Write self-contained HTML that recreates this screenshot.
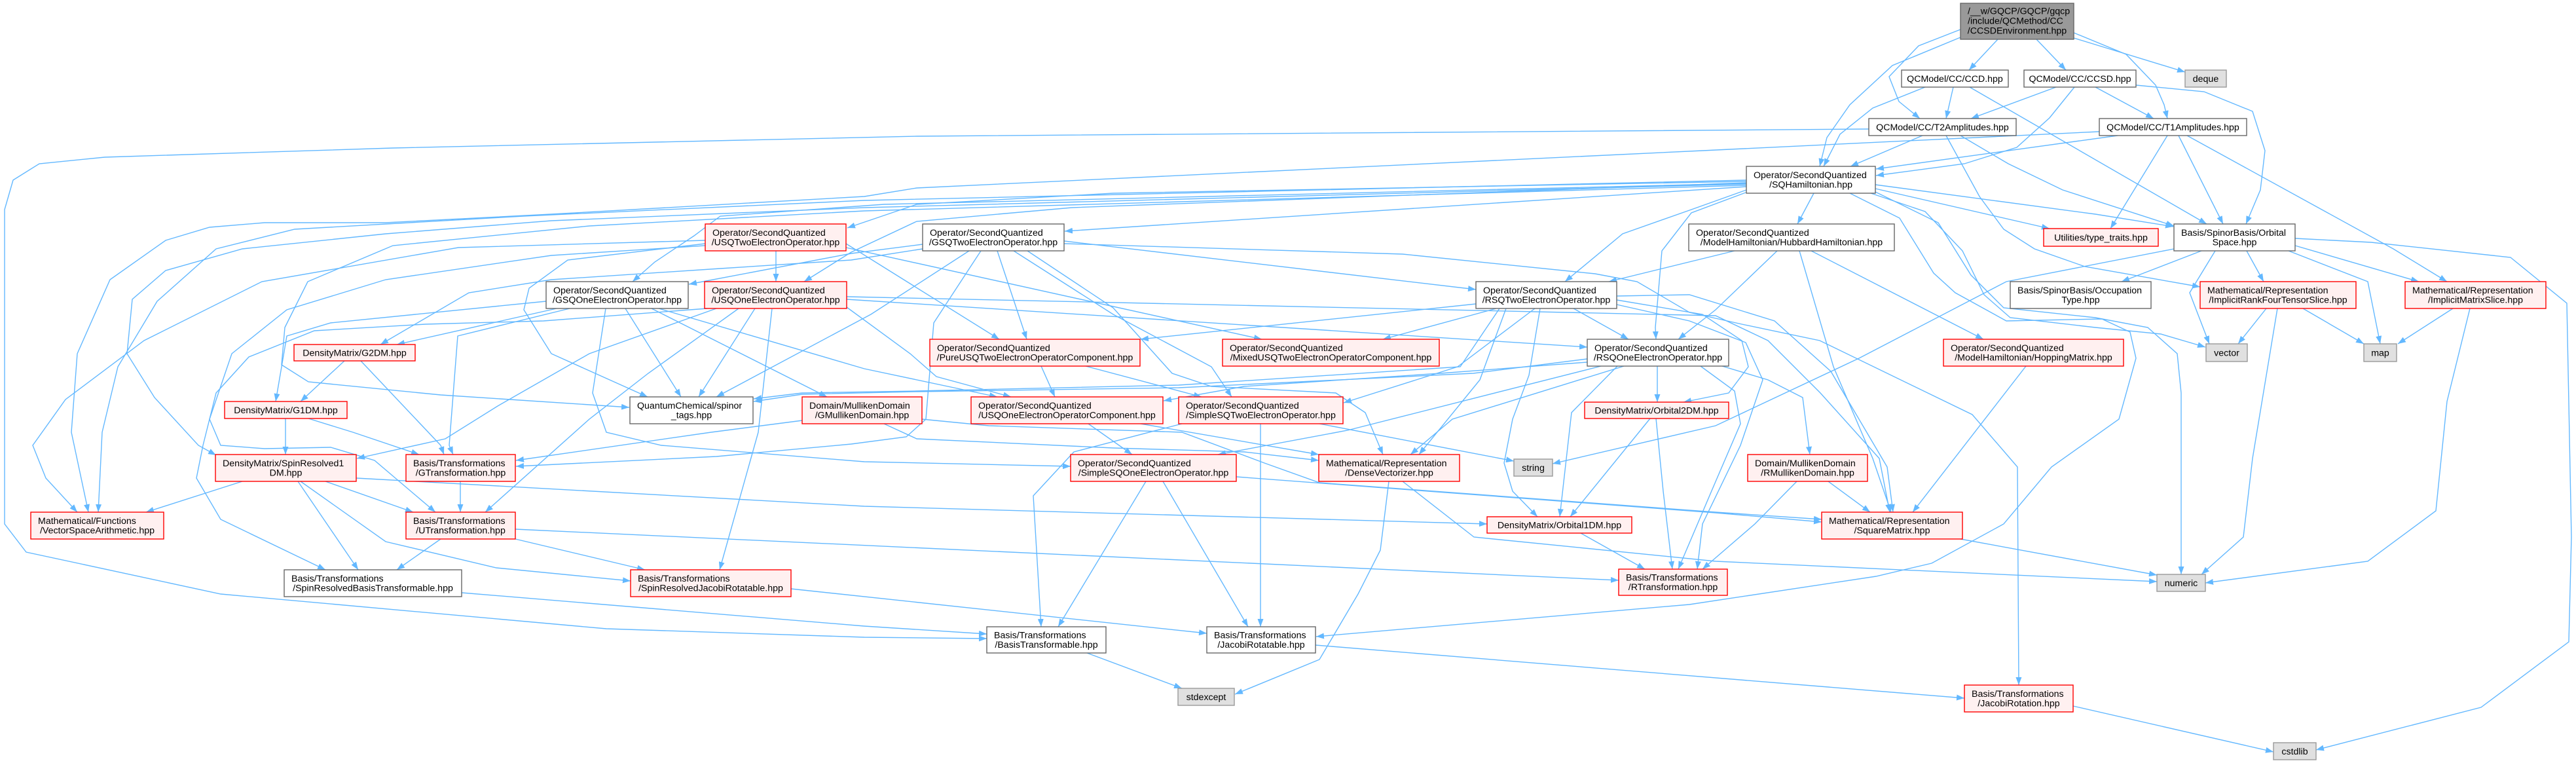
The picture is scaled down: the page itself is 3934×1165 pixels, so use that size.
<!DOCTYPE html>
<html><head><meta charset="utf-8"><style>
html,body{margin:0;padding:0;background:#fff;}
svg{display:block;}
.e polyline{fill:none;stroke:#63b8ff;stroke-width:1.4;marker-end:url(#a);}
.n{fill:#fff;stroke:#666;stroke-width:1.4;}
.r{fill:#fff0f0;stroke:#ff0000;stroke-width:1.4;}
.g{fill:#e0e0e0;stroke:#999;stroke-width:1.4;}
.k{fill:#999;stroke:#666;stroke-width:1.4;}
text{font-family:"Liberation Sans",Arial,sans-serif;font-size:14.2px;fill:#000;}
.m{text-anchor:middle;}
</style></head><body>
<svg width="3934" height="1165" viewBox="0 0 3934 1165" xmlns="http://www.w3.org/2000/svg">
<defs><marker id="a" viewBox="0 0 12 9" refX="12" refY="4.5" markerWidth="12" markerHeight="9" markerUnits="userSpaceOnUse" orient="auto"><path d="M0,0 L12,4.5 L0,9 z" fill="#63b8ff"/></marker></defs>
<g class="e">
<polyline points="3051,60 3007,107"/>
<polyline points="3110,60 3155,107"/>
<polyline points="3167,58 3337,110"/>
<polyline points="3167,50 3247,83 3292,130 3305,160 3310,181"/>
<polyline points="2994,45 2930,70 2885,117 2900,155 2932,181"/>
<polyline points="2994,57 2890,100 2825,160 2790,210 2779,254"/>
<polyline points="2983,133 2972,181"/>
<polyline points="2940,133 2860,165 2810,205 2785,254"/>
<polyline points="3008,133 3370,342"/>
<polyline points="3140,133 3010,181"/>
<polyline points="3200,133 3289,181"/>
<polyline points="3168,133 3130,180 3080,225 3000,250 2865,268"/>
<polyline points="3262,130 3366,140 3440,170 3459,230 3452,290 3430,342"/>
<polyline points="2936,207 2826,254"/>
<polyline points="2854,197 1400,208 600,226 160,240 60,250 20,275 7,320 7,800 40,843 337,907 926,960 1320,973 1507,975"/>
<polyline points="2994,207 3067,250 3150,290 3320,345"/>
<polyline points="2972,207 3023,300 3060,350 3107,380 3184,407 3360,438"/>
<polyline points="3234,207 2865,258"/>
<polyline points="3310,207 3223,349"/>
<polyline points="3327,207 3395,342"/>
<polyline points="3340,207 3655,380 3737,430"/>
<polyline points="3206,201 2600,230 1400,287 1320,300 842,327 589,340 404,340 320,347 253,367 168,427 118,540 109,660 135,782"/>
<polyline points="2667,277 1700,295 1400,312 1294,348"/>
<polyline points="2667,285 1626,353"/>
<polyline points="2667,280 1350,312 1100,330 1060,360 1000,400 966,430"/>
<polyline points="2667,279 1637,317 1400,338 1300,385 1228,430"/>
<polyline points="2770,295 2745,342"/>
<polyline points="2864,288 3130,349"/>
<polyline points="2864,282 3200,327 3319,346"/>
<polyline points="2667,290 2583,320 2478,357 2390,430"/>
<polyline points="2666,294 2583,325 2538,383 2528,500 2529,518"/>
<polyline points="2667,275 1320,306 800,330 450,350 330,380 240,460 180,560 156,660 150,782"/>
<polyline points="2667,281 1320,317 842,337 589,357 370,380 253,413 202,457 194,540 236,607 303,680 330,695"/>
<polyline points="2667,283 1320,322 900,345 600,375 470,430 435,500 430,557 471,583 673,603 961,622"/>
<polyline points="2857,295 2940,323 2997,383 3030,450 3070,485 3200,500 3300,510 3368,530"/>
<polyline points="2862,292 2960,340 3010,420 3060,470 3200,485 3280,500 3325,540 3331,600 3331,877"/>
<polyline points="2825,295 2901,333 2953,417 2986,447 3064,490 3210,487 3253,507 3262,547 3236,640 3133,713 3060,800 2950,860 2865,880 2580,923 2010,972"/>
<polyline points="1185,383 1185,430"/>
<polyline points="1292,372 1526,518"/>
<polyline points="1292,378 1927,518"/>
<polyline points="1077,372 867,397 808,440 800,473 842,540 989,606"/>
<polyline points="1077,367 700,378 400,430 220,520 100,610 50,680 70,730 118,782"/>
<polyline points="1077,375 842,390 589,427 438,473 354,540 320,640 337,680 404,685 505,683 572,703 665,782"/>
<polyline points="1409,373 1300,387 1052,434"/>
<polyline points="1409,380 1300,397 1100,410 842,427 716,447 581,526"/>
<polyline points="1625,368 2254,442"/>
<polyline points="1523,383 1568,518"/>
<polyline points="1548,383 1700,480 1850,560 1881,606"/>
<polyline points="1480,383 1330,480 1094,606"/>
<polyline points="1498,383 1426,493 1414,640 1384,667 1300,678 1094,697 788,712"/>
<polyline points="1625,372 2142,388 2436,418 2500,430 2580,477 2660,495 2779,520 3012,633 3081,713 3083,1046"/>
<polyline points="1569,383 1700,470 1790,570 1850,590 2040,600 2085,630 2112,694"/>
<polyline points="850,471 606,526"/>
<polyline points="834,460 505,493 438,513 421,613"/>
<polyline points="955,471 1040,606"/>
<polyline points="995,471 1263,606"/>
<polyline points="870,471 699,513 686,680 692,694"/>
<polyline points="925,471 905,600 926,660 1010,680 1320,705 1635,712"/>
<polyline points="1006,471 1320,563 1523,606"/>
<polyline points="1153,471 1067,606"/>
<polyline points="1094,471 900,540 760,620 680,670 545,700"/>
<polyline points="1128,471 990,570 900,640 741,782"/>
<polyline points="1179,471 1158,660 1099,870"/>
<polyline points="1293,457 2424,530"/>
<polyline points="1293,469 1390,540 1430,575 1544,606"/>
<polyline points="1080,471 830,490 650,495 480,505 380,545 330,600 310,680 300,730 337,793 497,870"/>
<polyline points="1293,453 2620,482 2700,520 2780,600 2870,700 2886,782"/>
<polyline points="2254,464 1742,518"/>
<polyline points="2285,471 2112,518"/>
<polyline points="2403,471 2487,518"/>
<polyline points="2344,471 2226,560 2052,615"/>
<polyline points="2469,458 2600,480 2660,520 2670,560 2640,600 2571,614"/>
<polyline points="2290,471 2230,560 1800,588 1400,597 1225,600 1151,609"/>
<polyline points="2300,471 2260,580 2167,694"/>
<polyline points="2352,471 2335,573 2310,640 2297,707 2310,750 2348,789"/>
<polyline points="2469,465 2580,490 2666,523 2692,580 2658,680 2600,800 2592,869"/>
<polyline points="2469,452 2580,450 2710,490 2796,567 2882,713 2891,782"/>
<polyline points="2424,548 2250,570 1800,592 1400,598 1225,602 1151,613"/>
<polyline points="2424,553 2200,570 1900,590 1777,612"/>
<polyline points="2445,559 2058,657 1860,694"/>
<polyline points="2531,559 2531,614"/>
<polyline points="2630,559 2700,580 2753,607 2764,694"/>
<polyline points="2480,559 2218,640 2154,694"/>
<polyline points="2470,559 2400,630 2382,789"/>
<polyline points="2597,559 2649,597 2658,647 2615,747 2563,869"/>
<polyline points="2649,383 2457,430"/>
<polyline points="2714,383 2620,473 2563,518"/>
<polyline points="2766,383 3029,518"/>
<polyline points="2748,383 2800,560 2860,700 2888,782"/>
<polyline points="526,551 459,613"/>
<polyline points="551,551 673,680 678,694"/>
<polyline points="436,639 436,694"/>
<polyline points="471,639 539,660 640,694"/>
<polyline points="370,735 223,782"/>
<polyline points="497,735 631,782"/>
<polyline points="455,735 547,870"/>
<polyline points="459,735 589,827 758,867 963,887"/>
<polyline points="544,730 1320,773 2271,800"/>
<polyline points="703,735 703,782"/>
<polyline points="673,823 606,870"/>
<polyline points="787,823 985,870"/>
<polyline points="787,808 2472,886"/>
<polyline points="705,905 1320,956 1507,968"/>
<polyline points="1208,899 1843,967"/>
<polyline points="1225,642 1086,660 788,703"/>
<polyline points="1408,640 1510,650 1805,660 1931,707 2015,737 2620,782 2782,793"/>
<polyline points="1350,647 1400,670 1700,684 1900,690 2014,703"/>
<polyline points="1590,559 1611,606"/>
<polyline points="1658,559 1835,606"/>
<polyline points="1662,647 1729,694"/>
<polyline points="1742,647 2014,694"/>
<polyline points="2015,647 2312,704"/>
<polyline points="1805,647 1640,690 1578,757 1590,957"/>
<polyline points="1925,647 1925,957"/>
<polyline points="1750,735 1616,957"/>
<polyline points="1776,735 1906,957"/>
<polyline points="1888,728 2620,783 2782,797"/>
<polyline points="2142,735 2251,820 2620,857 3294,888"/>
<polyline points="2121,735 2108,840 2074,907 2015,1007 1886,1060"/>
<polyline points="2792,735 2856,782"/>
<polyline points="2744,735 2680,800 2600,869"/>
<polyline points="2520,639 2398,789"/>
<polyline points="2529,639 2540,750 2554,869"/>
<polyline points="2414,814 2512,869"/>
<polyline points="2994,823 3294,878"/>
<polyline points="1660,997 1805,1051"/>
<polyline points="2009,985 3000,1066"/>
<polyline points="3166,1078 3472,1148"/>
<polyline points="3094,559 2921,782"/>
<polyline points="3362,383 3240,430"/>
<polyline points="3431,383 3457,430"/>
<polyline points="3505,375 3694,430"/>
<polyline points="3383,383 3344,447 3374,525"/>
<polyline points="3495,383 3616,430 3635,525"/>
<polyline points="3320,380 3064,430 2839,547 2620,650 2371,708"/>
<polyline points="3505,364 3621,370 3834,393 3920,463 3927,820 3923,980 3789,1080 3537,1145"/>
<polyline points="3461,471 3418,525"/>
<polyline points="3517,471 3610,525"/>
<polyline points="3478,471 3440,700 3426,820 3362,877"/>
<polyline points="3746,471 3662,525"/>
<polyline points="3772,471 3737,613 3720,780 3616,857 3368,890"/>
</g>
<g>
<rect class="k" x="2994" y="5" width="173" height="55"/>
<text x="3005" y="21.7">/__w/GQCP/GQCP/gqcp</text><text x="3005" y="36.7">/include/QCMethod/CC</text><text class="m" x="3080.5" y="51.7">/CCSDEnvironment.hpp</text>

<rect class="n" x="2904" y="107" width="163" height="26"/><text class="m" x="2985.5" y="125">QCModel/CC/CCD.hpp</text>
<rect class="n" x="3091" y="107" width="171" height="26"/><text class="m" x="3176.5" y="125">QCModel/CC/CCSD.hpp</text>
<rect class="g" x="3337" y="107" width="63" height="26"/><text class="m" x="3368.5" y="125">deque</text>
<rect class="n" x="2854" y="181" width="225" height="26"/><text class="m" x="2966.5" y="199">QCModel/CC/T2Amplitudes.hpp</text>
<rect class="n" x="3206" y="181" width="225" height="26"/><text class="m" x="3318.5" y="199">QCModel/CC/T1Amplitudes.hpp</text>

<rect class="n" x="2667" y="254" width="197" height="41"/><text x="2678" y="272">Operator/SecondQuantized</text><text class="m" x="2765.5" y="286.3">/SQHamiltonian.hpp</text>

<rect class="r" x="1077" y="342" width="215" height="41"/><text x="1088" y="360">Operator/SecondQuantized</text><text class="m" x="1184.5" y="374.3">/USQTwoElectronOperator.hpp</text>
<rect class="n" x="1409" y="342" width="216" height="41"/><text x="1420" y="360">Operator/SecondQuantized</text><text class="m" x="1517" y="374.3">/GSQTwoElectronOperator.hpp</text>
<rect class="n" x="2579" y="342" width="314" height="41"/><text x="2590" y="360">Operator/SecondQuantized</text><text class="m" x="2736" y="374.3">/ModelHamiltonian/HubbardHamiltonian.hpp</text>
<rect class="r" x="3121" y="349" width="175" height="27"/><text class="m" x="3208.5" y="367.5">Utilities/type_traits.hpp</text>
<rect class="n" x="3320" y="342" width="185" height="41"/><text x="3331" y="360">Basis/SpinorBasis/Orbital</text><text class="m" x="3412.5" y="374.3">Space.hpp</text>

<rect class="n" x="834" y="430" width="217" height="41"/><text x="845" y="448">Operator/SecondQuantized</text><text class="m" x="942.5" y="462.3">/GSQOneElectronOperator.hpp</text>
<rect class="r" x="1076" y="430" width="217" height="41"/><text x="1087" y="448">Operator/SecondQuantized</text><text class="m" x="1184.5" y="462.3">/USQOneElectronOperator.hpp</text>
<rect class="n" x="2254" y="430" width="215" height="41"/><text x="2265" y="448">Operator/SecondQuantized</text><text class="m" x="2361.5" y="462.3">/RSQTwoElectronOperator.hpp</text>
<rect class="n" x="3070" y="430" width="215" height="41"/><text x="3081" y="448">Basis/SpinorBasis/Occupation</text><text class="m" x="3177.5" y="462.3">Type.hpp</text>
<rect class="r" x="3360" y="430" width="238" height="41"/><text x="3371" y="448">Mathematical/Representation</text><text class="m" x="3479" y="462.3">/ImplicitRankFourTensorSlice.hpp</text>
<rect class="r" x="3673" y="430" width="215" height="41"/><text x="3684" y="448">Mathematical/Representation</text><text class="m" x="3780.5" y="462.3">/ImplicitMatrixSlice.hpp</text>

<rect class="r" x="449" y="526" width="185" height="25"/><text class="m" x="541.5" y="543.5">DensityMatrix/G2DM.hpp</text>
<rect class="r" x="1420" y="518" width="321" height="41"/><text x="1431" y="536">Operator/SecondQuantized</text><text class="m" x="1580.5" y="550.3">/PureUSQTwoElectronOperatorComponent.hpp</text>
<rect class="r" x="1867" y="518" width="331" height="41"/><text x="1878" y="536">Operator/SecondQuantized</text><text class="m" x="2032.5" y="550.3">/MixedUSQTwoElectronOperatorComponent.hpp</text>
<rect class="n" x="2424" y="518" width="216" height="41"/><text x="2435" y="536">Operator/SecondQuantized</text><text class="m" x="2532" y="550.3">/RSQOneElectronOperator.hpp</text>
<rect class="r" x="2968" y="518" width="275" height="41"/><text x="2979" y="536">Operator/SecondQuantized</text><text class="m" x="3105.5" y="550.3">/ModelHamiltonian/HoppingMatrix.hpp</text>
<rect class="g" x="3369" y="525" width="63" height="27"/><text class="m" x="3400.5" y="543.5">vector</text>
<rect class="g" x="3610" y="525" width="50" height="27"/><text class="m" x="3635" y="543.5">map</text>

<rect class="r" x="343" y="613" width="187" height="26"/><text class="m" x="436.5" y="631">DensityMatrix/G1DM.hpp</text>
<rect class="n" x="962" y="606" width="188" height="41"/><text x="973" y="624">QuantumChemical/spinor</text><text class="m" x="1056" y="638.3">_tags.hpp</text>
<rect class="r" x="1225" y="606" width="183" height="41"/><text x="1236" y="624">Domain/MullikenDomain</text><text class="m" x="1316.5" y="638.3">/GMullikenDomain.hpp</text>
<rect class="r" x="1483" y="606" width="293" height="41"/><text x="1494" y="624">Operator/SecondQuantized</text><text class="m" x="1629.5" y="638.3">/USQOneElectronOperatorComponent.hpp</text>
<rect class="r" x="1800" y="606" width="251" height="41"/><text x="1811" y="624">Operator/SecondQuantized</text><text class="m" x="1925.5" y="638.3">/SimpleSQTwoElectronOperator.hpp</text>
<rect class="r" x="2420" y="614" width="220" height="25"/><text class="m" x="2530" y="631.5">DensityMatrix/Orbital2DM.hpp</text>

<rect class="r" x="329" y="694" width="215" height="41"/><text x="340" y="712">DensityMatrix/SpinResolved1</text><text class="m" x="436.5" y="726.3">DM.hpp</text>
<rect class="r" x="620" y="694" width="167" height="41"/><text x="631" y="712">Basis/Transformations</text><text class="m" x="703.5" y="726.3">/GTransformation.hpp</text>
<rect class="r" x="1635" y="694" width="253" height="41"/><text x="1646" y="712">Operator/SecondQuantized</text><text class="m" x="1761.5" y="726.3">/SimpleSQOneElectronOperator.hpp</text>
<rect class="r" x="2014" y="694" width="215" height="41"/><text x="2025" y="712">Mathematical/Representation</text><text class="m" x="2121.5" y="726.3">/DenseVectorizer.hpp</text>
<rect class="g" x="2312" y="701" width="59" height="26"/><text class="m" x="2341.5" y="719">string</text>
<rect class="r" x="2669" y="694" width="183" height="41"/><text x="2680" y="712">Domain/MullikenDomain</text><text class="m" x="2760.5" y="726.3">/RMullikenDomain.hpp</text>

<rect class="r" x="47" y="782" width="203" height="41"/><text x="58" y="800">Mathematical/Functions</text><text class="m" x="148.5" y="814.3">/VectorSpaceArithmetic.hpp</text>
<rect class="r" x="620" y="782" width="167" height="41"/><text x="631" y="800">Basis/Transformations</text><text class="m" x="703.5" y="814.3">/UTransformation.hpp</text>
<rect class="r" x="2271" y="789" width="221" height="25"/><text class="m" x="2381.5" y="806.5">DensityMatrix/Orbital1DM.hpp</text>
<rect class="r" x="2782" y="782" width="215" height="41"/><text x="2793" y="800">Mathematical/Representation</text><text class="m" x="2889.5" y="814.3">/SquareMatrix.hpp</text>

<rect class="n" x="434" y="870" width="271" height="41"/><text x="445" y="888">Basis/Transformations</text><text class="m" x="569.5" y="902.3">/SpinResolvedBasisTransformable.hpp</text>
<rect class="r" x="963" y="870" width="245" height="41"/><text x="974" y="888">Basis/Transformations</text><text class="m" x="1085.5" y="902.3">/SpinResolvedJacobiRotatable.hpp</text>
<rect class="r" x="2472" y="869" width="166" height="40"/><text x="2483" y="886.5">Basis/Transformations</text><text class="m" x="2555" y="900.8">/RTransformation.hpp</text>
<rect class="g" x="3294" y="877" width="74" height="26"/><text class="m" x="3331" y="895">numeric</text>

<rect class="n" x="1507" y="957" width="182" height="40"/><text x="1518" y="974.5">Basis/Transformations</text><text class="m" x="1598" y="988.8">/BasisTransformable.hpp</text>
<rect class="n" x="1843" y="957" width="166" height="40"/><text x="1854" y="974.5">Basis/Transformations</text><text class="m" x="1926" y="988.8">/JacobiRotatable.hpp</text>
<rect class="g" x="1799" y="1051" width="86" height="26"/><text class="m" x="1842" y="1069">stdexcept</text>
<rect class="r" x="3000" y="1046" width="166" height="41"/><text x="3011" y="1064">Basis/Transformations</text><text class="m" x="3083" y="1078.3">/JacobiRotation.hpp</text>
<rect class="g" x="3472" y="1134" width="65" height="26"/><text class="m" x="3504.5" y="1152">cstdlib</text>
</g>
</svg>
</body></html>
